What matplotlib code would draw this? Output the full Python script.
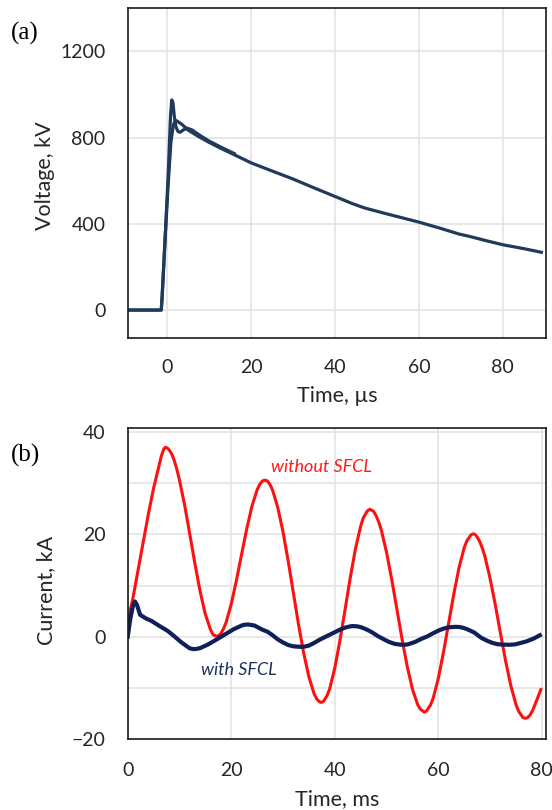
import matplotlib
matplotlib.use('Agg')
import matplotlib.pyplot as plt
import numpy as np

# (a) voltage, kV vs time, us
t_main = [-9.4, -1.4, -1.2, -0.5, 0.3, 0.9, 1.5, 2.0, 2.5, 3.5, 5, 7.5, 10, 12.6, 15, 20,
          23.7, 30, 35, 40, 44, 47, 52, 56, 60, 65, 69.5, 72, 76, 80, 85, 89.2]
v_main = [0, 0, 60, 330, 600, 780, 860, 880, 875, 862, 835, 805, 778, 752, 730, 683,
          655, 608, 567, 527, 495, 474, 448, 428, 408, 380, 353, 342, 322, 303, 285, 268]
t_spike = [-9.4, -1.4, -1.2, -0.4, 0.3, 0.8, 1.1, 1.4, 1.7, 2.1, 2.6, 3.1, 3.8, 4.7, 5.9,
           8, 10, 12.6, 16]
v_spike = [0, 0, 60, 360, 650, 900, 975, 960, 900, 850, 828, 825, 835, 844, 836,
           808, 784, 758, 726]

# (b) current, kA vs time, ms
t_red = [0, 1, 2, 3, 4, 5, 6, 6.5, 7.0, 7.3, 7.7, 8, 8.5, 9, 9.5, 10, 11, 12, 13, 14, 15, 16, 16.5, 17.2,
         17.6, 18, 18.5, 19, 20, 21, 22, 23, 24, 25, 25.5, 26, 26.5, 27, 27.5, 28, 29, 30, 31, 32, 33,
         34, 35, 36, 36.5, 37, 37.4, 37.8, 38.5, 39, 40, 41, 42, 43, 44, 45, 45.5, 46.3, 46.8, 47.5,
         48, 48.5, 49, 50, 51, 52, 53, 54, 55, 56, 56.5, 57.3, 57.7, 58.5, 59, 60, 61, 62, 63, 64, 65,
         65.5, 66.3, 66.7, 67.1, 67.5, 68, 68.5, 69, 70, 71, 72, 73, 74, 75, 75.5, 76.3, 76.8, 77.2,
         77.7, 78.2, 79, 79.8]
i_red = [3.0, 7.5, 13.0, 18.5, 24.0, 29.0, 33.2, 35.3, 36.7, 37.0, 36.8, 36.5, 35.7, 34.4, 32.7, 30.6, 25.7, 20.0, 14.2, 8.8, 4.4, 1.4, 0.4, 0.1,
         0.25, 0.65, 1.55, 2.8, 6.4, 11.0, 16.1, 21.1, 25.5, 28.7, 29.75, 30.4, 30.6, 30.4, 29.7, 28.6, 25.2, 20.5, 14.8, 8.6, 2.4,
         -3.2, -7.8, -11.1, -12.1, -12.65, -12.8, -12.6, -11.5, -10.2, -6.1, -0.7, 5.4, 11.6, 17.2, 21.6, 23.2, 24.6, 24.9, 24.5,
         23.6, 22.4, 20.8, 16.5, 11.2, 5.4, -0.5, -5.8, -10.2, -13.2, -14.1, -14.7, -14.5, -13.3, -12.0, -8.1, -3.0, 2.7, 8.4, 13.5, 17.4,
         18.7, 19.9, 20.1, 20.0, 19.5, 18.6, 17.3, 15.7, 11.4, 6.3, 0.7, -4.7, -9.5, -13.2, -14.5, -15.7, -15.9, -15.8,
         -15.3, -14.4, -12.4, -10.3]
t_blue = [0, 0.5, 1.0, 1.4, 1.8, 2.4, 3.5, 4.6, 6, 7, 7.8, 9, 10.4, 11.5, 12, 12.7, 13.3, 14, 15.5, 17.2,
          19, 20.5, 22, 22.5, 23, 23.5, 24.5, 26, 27, 28, 29, 30, 31, 32, 32.8, 33.6, 34.3, 35, 36, 37, 38,
          39, 40, 41, 42, 43, 43.6, 44.3, 45, 46, 47, 48.4, 49.5, 50.5, 51.5, 52.4, 53.2, 54, 54.5, 55.5,
          56.5, 57.9, 59, 60, 61, 62, 62.8, 63.5, 64.2, 65, 66, 67, 68.3, 69.5, 70.5, 71.5, 72.6, 73.8,
          74.8, 75.5, 77, 78.5, 79.6]
i_blue = [0, 3.5, 6.0, 6.9, 6.2, 4.3, 3.6, 3.1, 2.2, 1.6, 1.1, 0.1, -1.1, -1.9, -2.25, -2.4, -2.35, -2.2, -1.5, -0.5,
          0.6, 1.5, 2.2, 2.35, 2.4, 2.38, 2.2, 1.4, 1.0, 0.3, -0.5, -1.1, -1.6, -1.85, -1.92, -1.95, -1.88, -1.7, -1.2, -0.6, -0.1,
          0.4, 0.9, 1.4, 1.8, 2.05, 2.1, 2.05, 1.9, 1.5, 1.0, 0.1, -0.5, -1.0, -1.35, -1.5, -1.55, -1.5, -1.35, -1.0,
          -0.5, 0.1, 0.7, 1.2, 1.6, 1.85, 1.92, 1.95, 1.9, 1.7, 1.3, 0.8, -0.2, -0.8, -1.2, -1.45, -1.52, -1.55,
          -1.48, -1.3, -0.9, -0.3, 0.3]

font = 'Lato'
txt = '#262626'
grid = '#e4e4e4'

fig = plt.figure(figsize=(5.52, 8.10), dpi=100)
W, H = 552.0, 810.0

def style(ax):
    ax.grid(True, color=grid, linewidth=1.2)
    ax.set_axisbelow(True)
    ax.tick_params(length=0, labelsize=14, colors=txt)
    for lab in ax.get_xticklabels() + ax.get_yticklabels():
        lab.set_fontfamily(font)
    for s in ax.spines.values():
        s.set_color('#1a1a1a')
        s.set_linewidth(1.2)

# panel (a)
axa = fig.add_axes([127.7 / W, 1 - 338.5 / H, (546 - 127.7) / W, (338.5 - 8.3) / H])
axa.plot(t_main, v_main, color='#21395a', linewidth=2.3, solid_joinstyle='round')
axa.plot(t_spike, v_spike, color='#21395a', linewidth=2.3, solid_joinstyle='round')
axa.set_xlim(-9.4, 90.3)
axa.set_ylim(-132, 1400)
axa.set_xticks([0, 20, 40, 60, 80])
axa.set_yticks([0, 400, 800, 1200])
style(axa)
axa.tick_params(axis='y', pad=16)
axa.tick_params(axis='x', pad=15)

# panel (b)
axb = fig.add_axes([127.7 / W, 1 - 739.3 / H, (546 - 127.7) / W, (739.3 - 428.3) / H])
axb.plot(t_red, i_red, color='#ff1010', linewidth=2.2, solid_joinstyle='round')
axb.plot(t_blue, i_blue, color='#0f1f5a', linewidth=3.0, solid_joinstyle='round')
axb.set_xlim(0, 80.8)
axb.set_ylim(-20, 40.7)
axb.set_xticks([0, 20, 40, 60, 80])
axb.set_yticks([-20, 0, 20, 40])
axb.set_yticks([-10, 10, 30], minor=True)
axb.grid(True, which='minor', axis='y', color=grid, linewidth=1.2)
style(axb)
axb.tick_params(which='minor', length=0)
axb.tick_params(axis='y', pad=16)
axb.tick_params(axis='x', pad=16)
axb.text(21.4, -6.4, 'with SFCL', color='#1c3360', fontsize=13, style='italic',
         family=font, ha='center', va='center')
axb.text(37.5, 33.1, 'without SFCL', color='#ff1a1a', fontsize=13, style='italic',
         family=font, ha='center', va='center')

# axis titles and panel letters
fig.text(45 / W, 1 - 176 / H, 'Voltage, kV', rotation=90, ha='center', va='center',
         fontsize=15.5, family=font, color=txt)
fig.text(337 / W, 1 - 396 / H, 'Time, µs', ha='center', va='center',
         fontsize=15.5, family=font, color=txt)
fig.text(46 / W, 1 - 590 / H, 'Current, kA', rotation=90, ha='center', va='center',
         fontsize=15.5, family=font, color=txt)
fig.text(337 / W, 1 - 799 / H, 'Time, ms', ha='center', va='center',
         fontsize=15.5, family=font, color=txt)
fig.text(24.5 / W, 1 - 33 / H, '(a)', ha='center', va='center', fontsize=18,
         family='Liberation Serif', color='black')
fig.text(25.5 / W, 1 - 455 / H, '(b)', ha='center', va='center', fontsize=18,
         family='Liberation Serif', color='black')

fig.savefig('out.png', dpi=100)
